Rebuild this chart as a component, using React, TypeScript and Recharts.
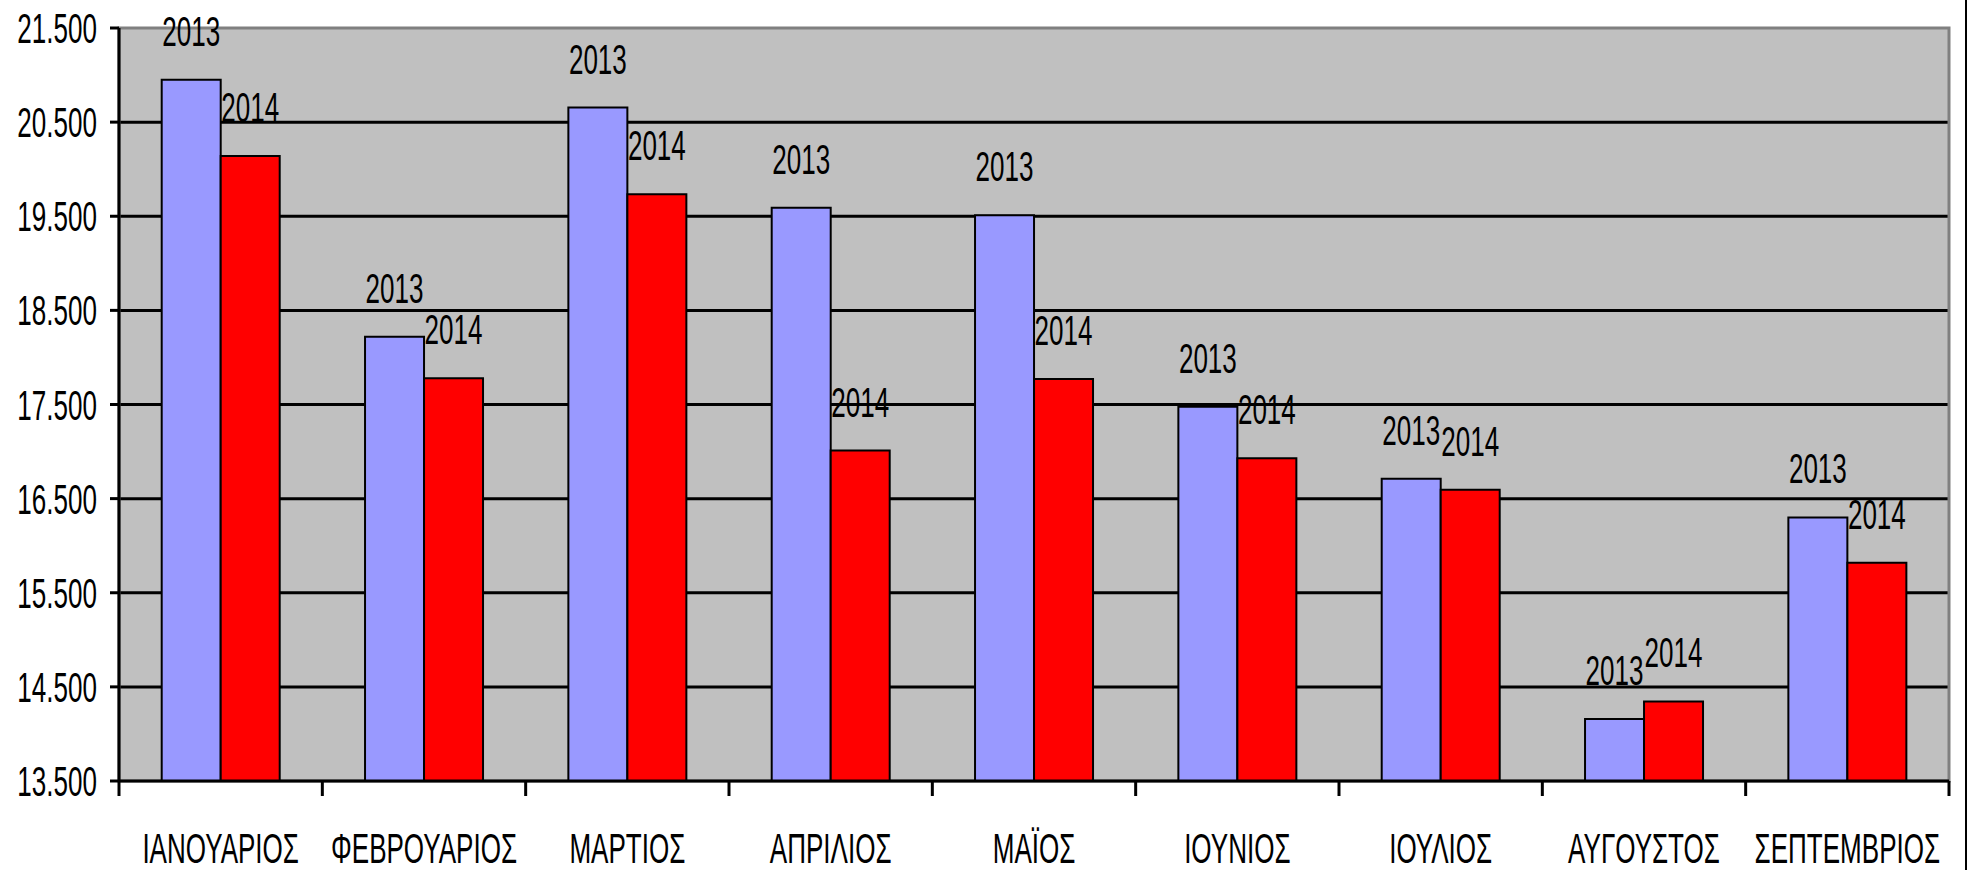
import { BarChart, Bar, XAxis, YAxis, CartesianGrid, LabelList, ReferenceArea } from 'recharts';

const months = ['ΙΑΝΟΥΑΡΙΟΣ', 'ΦΕΒΡΟΥΑΡΙΟΣ', 'ΜΑΡΤΙΟΣ', 'ΑΠΡΙΛΙΟΣ', 'ΜΑΪΟΣ', 'ΙΟΥΝΙΟΣ', 'ΙΟΥΛΙΟΣ', 'ΑΥΓΟΥΣΤΟΣ', 'ΣΕΠΤΕΜΒΡΙΟΣ'];
const values2013 = [20950, 18220, 20655, 19590, 19510, 17475, 16710, 14160, 16300];
const values2014 = [20140, 17780, 19735, 17010, 17770, 16930, 16595, 14345, 15820];
const yTicks = [13500, 14500, 15500, 16500, 17500, 18500, 19500, 20500, 21500];

const data = months.map((m, i) => ({ month: m, y2013: values2013[i], y2014: values2014[i] }));

const W = 1968;
const H = 870;
const LEFT = 119;
const RIGHT = 19;
const BAND = (W - LEFT - RIGHT) / months.length;
const FONT = 'Liberation Sans, Arial, sans-serif';
const SQUEEZE = 0.62;

const fmt = (n: number) => String(n).replace(/\B(?=(\d{3})+(?!\d))/g, '.');

function Squeezed({ x, y, text, anchor }: { x: number; y: number; text: string; anchor: 'start' | 'middle' | 'end' }) {
  return (
    <text transform={`translate(${x},${y}) scale(${SQUEEZE},1)`} textAnchor={anchor} fontSize={42} fontFamily={FONT} fill="#000">
      {text}
    </text>
  );
}

function YTick(props: any) {
  const { x, y, payload } = props;
  return <Squeezed x={x} y={y + 15} text={fmt(payload.value)} anchor="end" />;
}

function XTick(props: any) {
  const { x, y, payload, index } = props;
  return (
    <g>
      <line x1={x - BAND / 2} x2={x - BAND / 2} y1={y} y2={y + 15} stroke="#000" strokeWidth={3} />
      {index === months.length - 1 && (
        <line x1={x + BAND / 2} x2={x + BAND / 2} y1={y} y2={y + 15} stroke="#000" strokeWidth={3} />
      )}
      <Squeezed x={x} y={y + 82} text={payload.value} anchor="middle" />
    </g>
  );
}

const seriesLabel = (name: string) => (props: any) => {
  const { x, y, width } = props;
  return <Squeezed x={x + width / 2} y={y - 34} text={name} anchor="middle" />;
};

export default function App() {
  return (
    <div style={{ position: 'absolute', left: 0, top: 0, width: W, height: H, background: '#fff' }}>
      <BarChart
        width={W}
        height={H}
        data={data}
        margin={{ top: 28, right: RIGHT, bottom: 0, left: 0 }}
        barCategoryGap="21%"
        barGap={0}
      >
        <CartesianGrid
          vertical={false}
          fill="#C0C0C0"
          stroke="#000"
          strokeWidth={3}
          horizontalValues={yTicks.slice(1, -1)}
        />
        <ReferenceArea y1={13500} y2={21500} fill="none" stroke="#808080" strokeWidth={3} />
        <XAxis
          dataKey="month"
          height={89}
          tickLine={false}
          tickSize={0}
          tickMargin={0}
          axisLine={{ stroke: '#000', strokeWidth: 3 }}
          tick={<XTick />}
          interval={0}
        />
        <YAxis
          width={LEFT}
          domain={[13500, 21500]}
          ticks={yTicks}
          allowDataOverflow
          tickSize={9}
          tickMargin={13}
          tickLine={{ stroke: '#000', strokeWidth: 3 }}
          axisLine={{ stroke: '#000', strokeWidth: 3 }}
          tick={<YTick />}
        />
        <Bar dataKey="y2013" fill="#9999FF" stroke="#000" strokeWidth={2} isAnimationActive={false}>
          <LabelList dataKey="y2013" content={seriesLabel('2013')} />
        </Bar>
        <Bar dataKey="y2014" fill="#FF0000" stroke="#000" strokeWidth={2} isAnimationActive={false}>
          <LabelList dataKey="y2014" content={seriesLabel('2014')} />
        </Bar>
      </BarChart>
      <div style={{ position: 'absolute', left: 1965, top: 0, width: 2, height: H, background: '#000' }} />
    </div>
  );
}
